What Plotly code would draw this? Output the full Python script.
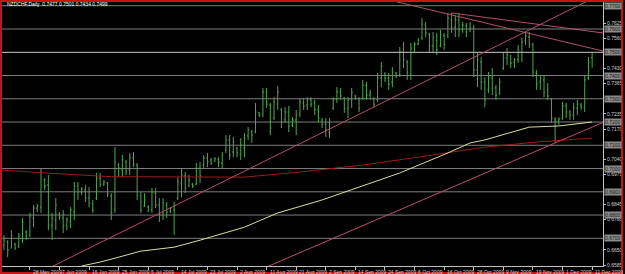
import plotly.graph_objects as go

# ---- data ----
bar_index = list(range(161))
open_ = [0.6658,0.6671,0.6684,0.6658,0.6675,0.6667,0.6701,0.6727,0.6714,0.6787,
0.6830,0.6834,0.6951,0.6929,0.6753,0.6779,0.6804,0.6787,0.6753,0.6770,
0.6813,0.6925,0.6899,0.6907,0.6873,0.6847,0.6873,0.6959,0.6933,0.6938,
0.6882,0.6822,0.7015,0.6994,0.7028,0.6994,0.7045,0.7015,0.6882,0.6839,
0.6834,0.6822,0.6894,0.6843,0.6804,0.6843,0.6817,0.6822,0.6873,0.6938,
0.6968,0.6925,0.6933,0.6933,0.7002,0.7015,0.7045,0.7037,0.7032,0.7037,
0.7024,0.7080,0.7123,0.7071,0.7088,0.7058,0.7088,0.7140,0.7157,0.7157,
0.7239,0.7234,0.7329,0.7273,0.7217,0.7277,0.7252,0.7209,0.7243,0.7187,
0.7209,0.7234,0.7282,0.7273,0.7295,0.7282,0.7252,0.7209,0.7191,0.7157,
0.7260,0.7295,0.7329,0.7303,0.7260,0.7295,0.7312,0.7299,0.7303,0.7355,
0.7316,0.7299,0.7295,0.7389,0.7406,0.7389,0.7372,0.7411,0.7402,0.7501,
0.7458,0.7406,0.7522,0.7535,0.7561,0.7617,0.7578,0.7527,0.7552,0.7527,
0.7570,0.7574,0.7639,0.7608,0.7639,0.7596,0.7613,0.7596,0.7604,0.7424,
0.7458,0.7372,0.7338,0.7389,0.7346,0.7325,0.7432,0.7475,0.7484,0.7458,
0.7467,0.7501,0.7552,0.7565,0.7531,0.7411,0.7372,0.7381,0.7338,0.7299,
0.7209,0.7204,0.7217,0.7269,0.7243,0.7230,0.7260,0.7273,0.7260,0.7389,
0.7477]
high = [0.6701,0.6714,0.6692,0.6735,0.6680,0.6723,0.6787,0.6735,0.6809,0.6843,
0.6847,0.7002,0.6959,0.6972,0.6809,0.6873,0.6813,0.6822,0.6791,0.6834,
0.6942,0.6942,0.6920,0.6929,0.6920,0.6865,0.6981,0.6981,0.6951,0.6942,
0.6894,0.7092,0.7024,0.7058,0.7037,0.7067,0.7071,0.7024,0.6899,0.6894,
0.6843,0.6916,0.6916,0.6873,0.6873,0.6856,0.6834,0.6856,0.6963,0.7002,
0.6985,0.6972,0.6938,0.7024,0.7028,0.7058,0.7067,0.7045,0.7049,0.7049,
0.7071,0.7144,0.7144,0.7136,0.7092,0.7131,0.7153,0.7178,0.7166,0.7282,
0.7243,0.7346,0.7346,0.7282,0.7307,0.7355,0.7260,0.7264,0.7269,0.7221,
0.7252,0.7303,0.7303,0.7307,0.7307,0.7295,0.7273,0.7217,0.7217,0.7217,
0.7307,0.7350,0.7346,0.7307,0.7307,0.7346,0.7316,0.7307,0.7381,0.7372,
0.7338,0.7307,0.7411,0.7458,0.7415,0.7411,0.7436,0.7415,0.7522,0.7544,
0.7467,0.7540,0.7544,0.7561,0.7647,0.7630,0.7583,0.7587,0.7583,0.7596,
0.7583,0.7669,0.7669,0.7660,0.7669,0.7630,0.7626,0.7630,0.7617,0.7497,
0.7479,0.7393,0.7415,0.7432,0.7359,0.7389,0.7497,0.7518,0.7488,0.7475,
0.7531,0.7561,0.7583,0.7587,0.7540,0.7424,0.7402,0.7402,0.7368,0.7303,
0.7221,0.7221,0.7286,0.7282,0.7252,0.7282,0.7295,0.7282,0.7402,0.7479,
0.7501]
low = [0.6641,0.6650,0.6619,0.6658,0.6650,0.6658,0.6680,0.6692,0.6706,0.6748,
0.6813,0.6809,0.6907,0.6735,0.6692,0.6735,0.6779,0.6723,0.6735,0.6744,
0.6779,0.6865,0.6886,0.6856,0.6834,0.6809,0.6865,0.6920,0.6925,0.6877,
0.6779,0.6809,0.6963,0.6963,0.6972,0.6972,0.7006,0.6865,0.6809,0.6834,
0.6813,0.6809,0.6830,0.6770,0.6779,0.6787,0.6809,0.6714,0.6865,0.6877,
0.6894,0.6920,0.6916,0.6929,0.6938,0.7002,0.7006,0.7015,0.7028,0.7006,
0.7002,0.7067,0.7037,0.7049,0.7049,0.7037,0.7049,0.7123,0.7110,0.7153,
0.7221,0.7221,0.7260,0.7144,0.7209,0.7252,0.7174,0.7196,0.7157,0.7178,
0.7144,0.7221,0.7252,0.7252,0.7264,0.7230,0.7200,0.7174,0.7136,0.7131,
0.7252,0.7282,0.7295,0.7239,0.7217,0.7260,0.7295,0.7243,0.7295,0.7295,
0.7295,0.7264,0.7286,0.7350,0.7372,0.7338,0.7350,0.7389,0.7393,0.7432,
0.7381,0.7381,0.7501,0.7531,0.7552,0.7565,0.7501,0.7497,0.7488,0.7522,
0.7510,0.7561,0.7583,0.7565,0.7565,0.7583,0.7565,0.7587,0.7393,0.7350,
0.7338,0.7264,0.7325,0.7316,0.7295,0.7316,0.7424,0.7445,0.7432,0.7432,
0.7454,0.7458,0.7531,0.7518,0.7393,0.7338,0.7338,0.7307,0.7295,0.7196,
0.7110,0.7187,0.7209,0.7217,0.7209,0.7209,0.7230,0.7252,0.7243,0.7381,
0.7434]
close = [0.6671,0.6692,0.6650,0.6714,0.6658,0.6710,0.6770,0.6710,0.6796,0.6830,
0.6839,0.6985,0.6925,0.6757,0.6787,0.6843,0.6791,0.6753,0.6779,0.6822,
0.6925,0.6899,0.6912,0.6873,0.6852,0.6822,0.6959,0.6933,0.6942,0.6890,
0.6809,0.7028,0.7002,0.7037,0.6985,0.7045,0.7019,0.6886,0.6822,0.6865,
0.6822,0.6899,0.6843,0.6800,0.6852,0.6813,0.6830,0.6843,0.6942,0.6972,
0.6916,0.6951,0.6925,0.7002,0.6968,0.7045,0.7028,0.7024,0.7041,0.7028,
0.7058,0.7123,0.7058,0.7114,0.7067,0.7101,0.7131,0.7166,0.7144,0.7243,
0.7230,0.7329,0.7277,0.7174,0.7286,0.7329,0.7200,0.7243,0.7183,0.7209,
0.7230,0.7286,0.7269,0.7295,0.7277,0.7252,0.7217,0.7191,0.7166,0.7200,
0.7295,0.7329,0.7312,0.7260,0.7295,0.7329,0.7303,0.7260,0.7359,0.7316,
0.7325,0.7277,0.7389,0.7441,0.7389,0.7363,0.7415,0.7398,0.7501,0.7467,
0.7415,0.7518,0.7535,0.7552,0.7621,0.7583,0.7527,0.7561,0.7510,0.7574,
0.7531,0.7647,0.7604,0.7639,0.7596,0.7617,0.7587,0.7604,0.7424,0.7467,
0.7372,0.7295,0.7389,0.7346,0.7316,0.7372,0.7475,0.7488,0.7454,0.7467,
0.7510,0.7544,0.7570,0.7535,0.7415,0.7363,0.7389,0.7329,0.7312,0.7217,
0.7200,0.7213,0.7269,0.7243,0.7230,0.7260,0.7277,0.7264,0.7381,0.7458,
0.7499]

# moving averages read at sample bars
ma_slow_idx = [22, 27, 32, 38, 47, 54, 66, 75, 87, 98, 108, 121, 127, 131, 143, 151, 160]
ma_slow_val = [0.6581, 0.6598, 0.6619, 0.6645, 0.6662, 0.6692, 0.6748, 0.6809, 0.6865,
               0.6925, 0.6981, 0.7067, 0.7110, 0.7123, 0.7178, 0.7183, 0.7200]
ma_red_idx = [0, 12, 30, 54, 66, 81, 98, 113, 131, 145, 160]
ma_red_val = [0.6994, 0.6981, 0.6965, 0.6963, 0.6963, 0.6985, 0.7015, 0.7049, 0.7092, 0.7114, 0.7131]

# trend lines: two anchor points each (bar index, price)
trend_up_a = [(32.3, 0.6723), (129.3, 0.7488)]
trend_up_b = [(80.8, 0.6637), (150.0, 0.7110)]
trend_dn_1 = [(122.0, 0.7669), (162.9, 0.7583)]
trend_dn_2 = [(105.0, 0.7725), (163.0, 0.7505)]

hline_levels = [0.7700, 0.7600, 0.7500, 0.7400, 0.7300, 0.7200, 0.7100, 0.7000, 0.6900, 0.6800, 0.6700]
bid_price = 0.7499

# price scale labels left visible (the others sit under the line labels)
y_ticks = [0.7625, 0.7560, 0.7430, 0.7365, 0.7235, 0.7170,
           0.7040, 0.6975, 0.6845, 0.6780, 0.6650, 0.6585]
x_tick_idx = list(range(0, 161, 8))
x_tick_labels = ["19 May 2009", "28 May 2009", "7 Jun 2009", "16 Jun 2009", "25 Jun 2009",
                 "5 Jul 2009", "14 Jul 2009", "23 Jul 2009", "2 Aug 2009", "11 Aug 2009",
                 "21 Aug 2009", "2 Sep 2009", "14 Sep 2009", "24 Sep 2009", "6 Oct 2009",
                 "16 Oct 2009", "28 Oct 2009", "9 Nov 2009", "19 Nov 2009", "1 Dec 2009",
                 "11 Dec 2009"]
title_text = "NZDCHF,Daily  0.7477 0.7501 0.7434 0.7499"

# ---- figure ----
FONT = "Liberation Sans, Arial, sans-serif"
TXT = "#d2d2d2"
PINK = "#b4506e"

fig = go.Figure()

def ray(anchors, start, end):
    (i0, p0), (i1, p1) = anchors
    s = (p1 - p0) / (i1 - i0)
    return [start, end], [p0 + s * (start - i0), p0 + s * (end - i0)]

fig.add_trace(go.Scatter(x=[-5, 170], y=[bid_price, bid_price], mode="lines",
                         line=dict(color="#a8a8a8", width=1), hoverinfo="skip"))
fig.add_trace(go.Scatter(x=ma_red_idx, y=ma_red_val, mode="lines",
                         line=dict(color="#9a1c1c", width=1), hoverinfo="skip"))
fig.add_trace(go.Scatter(x=ma_slow_idx, y=ma_slow_val, mode="lines",
                         line=dict(color="#dcdca0", width=1), hoverinfo="skip"))
for anchors, s, e in [(trend_up_a, -10, 175), (trend_up_b, -10, 175),
                      (trend_dn_1, 122, 175), (trend_dn_2, -10, 175)]:
    xs, ys = ray(anchors, s, e)
    fig.add_trace(go.Scatter(x=xs, y=ys, mode="lines",
                             line=dict(color=PINK, width=1), hoverinfo="skip"))

fig.add_trace(go.Ohlc(x=bar_index, open=open_, high=high, low=low, close=close,
                      increasing=dict(line=dict(color="#4fa64f", width=1)),
                      decreasing=dict(line=dict(color="#4fa64f", width=1)),
                      tickwidth=0.3, hoverinfo="skip"))

shapes = []
for lv in hline_levels:
    shapes.append(dict(type="line", xref="paper", x0=0, x1=1, yref="y", y0=lv, y1=lv,
                       line=dict(color="#7e7e7e", width=1), layer="below"))
# red window frame
shapes.append(dict(type="rect", xref="paper", yref="paper",
                   x0=(1 - 2) / 603, x1=(624 - 2) / 603,
                   y0=(266 - 273) / 264, y1=(266 - 1) / 264,
                   line=dict(color="#c81414", width=2)))

annotations = []
for lv in hline_levels:
    annotations.append(dict(xref="paper", x=1, xanchor="left", xshift=1,
                            yref="y", y=lv, yanchor="middle",
                            text="%.4f" % lv, showarrow=False, bgcolor="#8a8a8a",
                            borderpad=0, font=dict(family=FONT, size=5, color="#1a1a1a")))
for i, lab in zip(x_tick_idx, x_tick_labels):
    annotations.append(dict(xref="x", x=i, xanchor="left", xshift=1,
                            yref="paper", y=0, yanchor="top", yshift=-1,
                            text=lab, showarrow=False,
                            font=dict(family=FONT, size=5, color=TXT)))
annotations.append(dict(xref="paper", x=(5 - 2) / 603, xanchor="left",
                        yref="paper", y=(266 - 4) / 264, yanchor="middle",
                        text=title_text, showarrow=False,
                        font=dict(family=FONT, size=5, color="#ffffff")))

fig.update_layout(
    width=625, height=274,
    margin=dict(l=2, r=20, t=2, b=8),
    paper_bgcolor="#000000", plot_bgcolor="#000000",
    showlegend=False,
    shapes=shapes, annotations=annotations,
    xaxis=dict(range=[0.46, 162.94], showgrid=False, zeroline=False,
               showline=True, linecolor="#c0c0c0", linewidth=1,
               ticks="outside", tickvals=x_tick_idx, ticklen=3, tickcolor="#c0c0c0",
               showticklabels=False, rangeslider=dict(visible=False), fixedrange=True),
    yaxis=dict(range=[0.6581, 0.7716], side="right", showgrid=False, zeroline=False,
               showline=True, linecolor="#c0c0c0", linewidth=1,
               ticks="outside", ticklen=2, tickcolor="#c0c0c0",
               tickvals=y_ticks, ticktext=["%.4f" % v for v in y_ticks],
               tickfont=dict(family=FONT, size=5, color=TXT), fixedrange=True),
)

fig.write_html("out.html")
